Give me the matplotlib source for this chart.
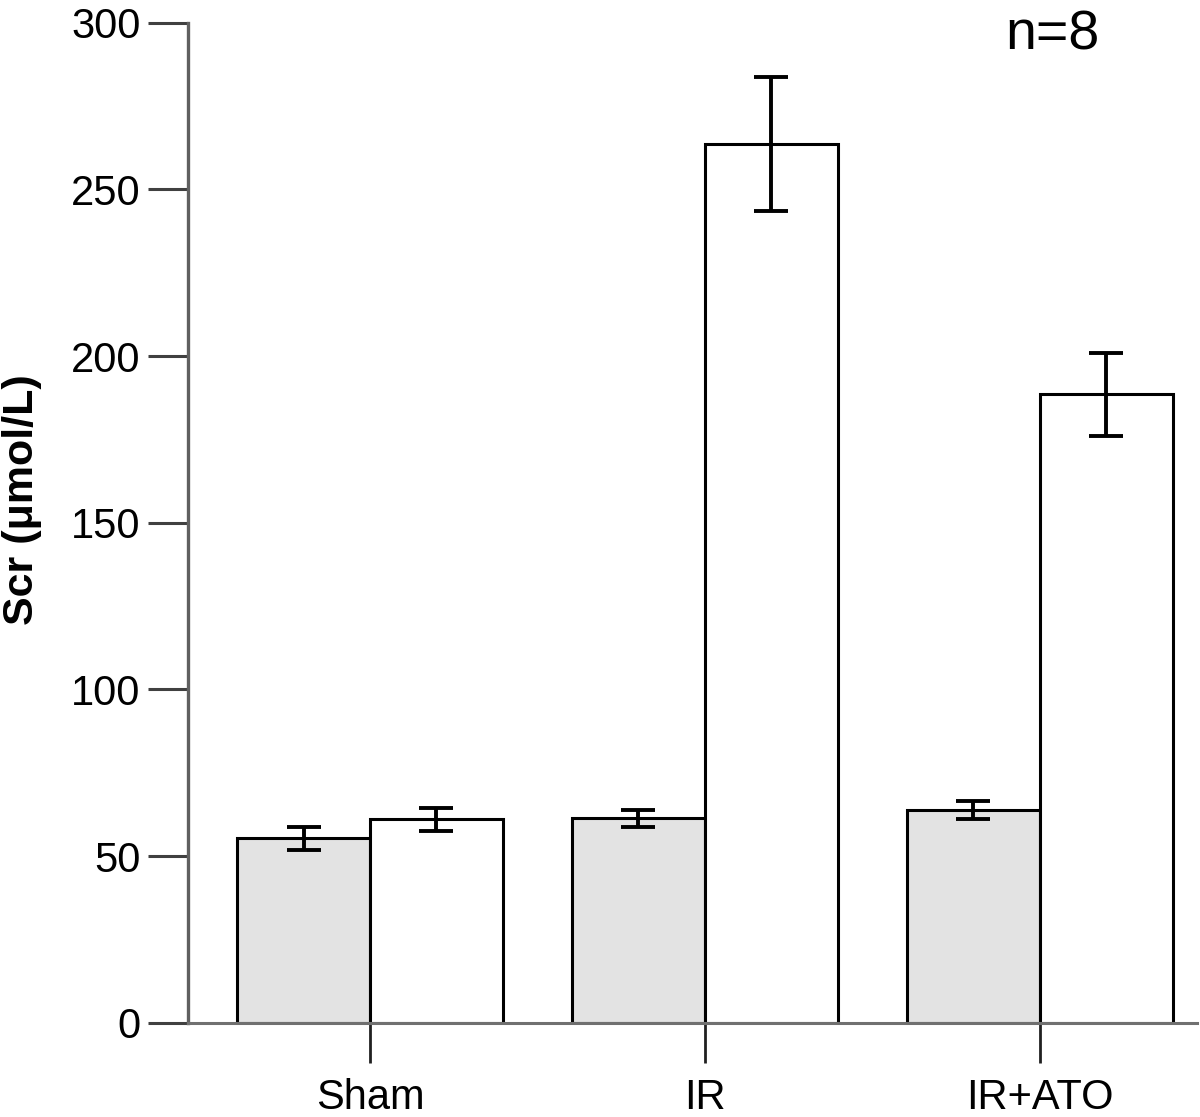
import numpy as np
import matplotlib.pyplot as plt

plt.rcParams['font.family'] = ['Liberation Sans', 'DejaVu Sans']

groups = ['Sham', 'IR', 'IR+ATO']
before = [55.3, 61.3, 63.8]
before_err = [3.5, 2.6, 2.8]
after = [61.0, 263.6, 188.5]
after_err = [3.4, 20.2, 12.4]
y_ticks = [0, 50, 100, 150, 200, 250, 300]

fig = plt.figure(figsize=(12, 11.17), dpi=100)
ax = fig.add_axes([188 / 1200, 1 - 1022.7 / 1117, (1197 - 188) / 1200, 1000 / 1117])

x = np.arange(len(groups))
w = 0.397
err_kw = dict(ecolor='black', elinewidth=2.8, capsize=12.5, capthick=2.8)

ax.bar(x - w / 2, before, w, color='#e3e3e3', edgecolor='black', linewidth=2.2,
       yerr=before_err, error_kw=err_kw, zorder=2)
ax.bar(x + w / 2, after, w, color='white', edgecolor='black', linewidth=2.2,
       yerr=after_err, error_kw=err_kw, zorder=2)

ax.set_xlim(-0.5433, 2.4687)
ax.set_ylim(0, 300)
ax.set_yticks(y_ticks)
ax.set_xticks(x)
ax.set_xticklabels(groups)

for s in ['top', 'right']:
    ax.spines[s].set_visible(False)
ax.spines['left'].set_color('#606060')
ax.spines['left'].set_linewidth(2.4)
ax.spines['bottom'].set_color('#707070')
ax.spines['bottom'].set_linewidth(2.2)

ax.tick_params(axis='y', direction='out', length=28.8, width=2.2, color='#404040',
               pad=5.5, labelsize=30, labelcolor='black')
ax.tick_params(axis='x', direction='out', length=28.8, width=2.0, color='#202020',
               pad=11, labelsize=30, labelcolor='black')

fig.text(22 / 1200, 1 - 500 / 1117, 'Scr (μmol/L)', rotation=90, fontsize=31,
         fontweight='bold', ha='center', va='center')
fig.text(1005 / 1200, 1 - 50 / 1117, 'n=8', fontsize=40, ha='left', va='baseline')

plt.savefig('out.png', dpi=100)
